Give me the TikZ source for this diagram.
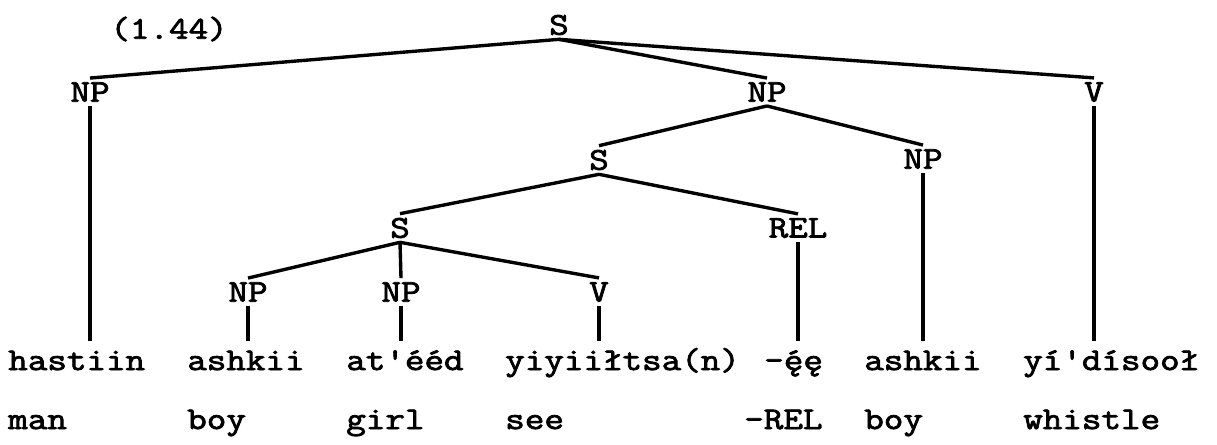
\documentclass[tikz,border=0pt]{standalone}
\usepackage{fontspec}
\newfontfamily\twfont[FakeStretch=1.2, FakeBold=2.5]{Latin Modern Mono}
\usepackage{tikz}

\begin{document}
\begin{tikzpicture}[x=0.25mm, y=-0.25mm,
            cat/.style={font=\twfont\fontsize{22.5}{27}\selectfont,
                        inner sep=1mm},
            wrd/.style={font=\twfont\fontsize{22.5}{27}\selectfont,
                        anchor=base west, inner sep=0pt, text height=7.3mm},
            edge/.style={line width=2.4pt}]
            \useasboundingbox (0,0) rectangle (1217,444);
            % labels of the tree
            \node[cat] (ex) at (169,29) {(1.44)};
            \node[cat] (s0) at (559,25) {S};
            \node[cat] (np1) at (90,92) {NP};
            \node[cat] (np2) at (767,92) {NP};
            \node[cat] (v1) at (1094,92) {V};
            \node[cat] (s1) at (599,160) {S};
            \node[cat] (np3) at (923,159) {NP};
            \node[cat] (s2) at (400,228) {S};
            \node[cat] (rel) at (798,228) {REL};
            \node[cat] (np4) at (248,292) {NP};
            \node[cat] (np5) at (401,292) {NP};
            \node[cat] (v2) at (599,292) {V};
            % words and glosses
            \node[wrd] (w1) at (8,370) {hastiin};
            \node[wrd] (w2) at (187,370) {ashkii};
            \node[wrd] (w3) at (346,370) {at'ééd};
            \node[wrd] (w4) at (505,370) {yiyiiłtsa(n)};
            \node[wrd] (w5) at (764,370) {-\'{ę}ę};
            \node[wrd] (w6) at (864,370) {ashkii};
            \node[wrd] (w7) at (1023,370) {yí'dísooł};
            \node[wrd] (g1) at (8,429) {man};
            \node[wrd] (g2) at (187,429) {boy};
            \node[wrd] (g3) at (346,429) {girl};
            \node[wrd] (g4) at (505,429) {see};
            \node[wrd] (g5) at (744,429) {-REL};
            \node[wrd] (g6) at (864,429) {boy};
            \node[wrd] (g7) at (1023,429) {whistle};
            % branches
            \draw[edge] (s0.south) -- (np1.north);
            \draw[edge] (s0.south) -- (np2.north);
            \draw[edge] (s0.south) -- (v1.north);
            \draw[edge] (np2.south) -- (s1.north);
            \draw[edge] (np2.south) -- (np3.north);
            \draw[edge] (s1.south) -- (s2.north);
            \draw[edge] (s1.south) -- (rel.north);
            \draw[edge] (s2.south) -- (np4.north);
            \draw[edge] (s2.south) -- (np5.north);
            \draw[edge] (s2.south) -- (v2.north);
            % down to the words
            \draw[edge] (np1.south) -- (np1.south |- w1.north);
            \draw[edge] (np4.south) -- (np4.south |- w2.north);
            \draw[edge] (np5.south) -- (np5.south |- w3.north);
            \draw[edge] (v2.south) -- (v2.south |- w4.north);
            \draw[edge] (rel.south) -- (rel.south |- w5.north);
            \draw[edge] (np3.south) -- (np3.south |- w6.north);
            \draw[edge] (v1.south) -- (v1.south |- w7.north);
          \end{tikzpicture}
\end{document}
